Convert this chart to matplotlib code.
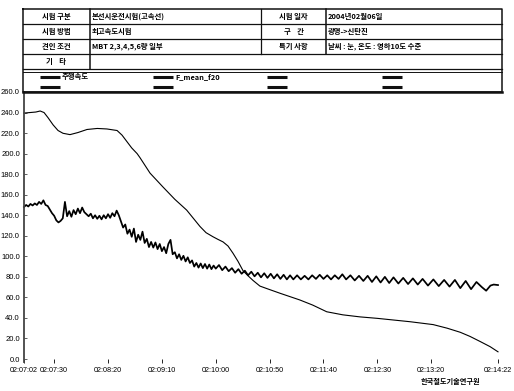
import matplotlib
matplotlib.use("Agg")
import matplotlib.pyplot as plt

plt.rcParams['font.family'] = ['Noto Sans CJK KR', 'DejaVu Sans']

# ==========================
# 시험 정보 (헤더 표)
# ==========================
LEFT_LABELS = ["시험 구분", "시험 방법", "견인 조건", "기    타"]
LEFT_VALUES = ["본선시운전시험(고속선)", "최고속도시험", "MBT 2,3,4,5,6량 일부", ""]
RIGHT_LABELS = ["시험 일자", "구    간", "특기 사항"]
RIGHT_VALUES = ["2004년02월06일", "광명->신탄진", "날씨 : 눈, 온도 : 영하10도 수준"]
SERIES_NAMES = ["주행속도", "F_mean_f20", "", ""]
SOURCE = "한국철도기술연구원"

# ==========================
# 시간축 (02:07:02 기준, 초)
# ==========================
TICK_SEC = [0, 28, 78, 128, 178, 228, 278, 328, 378, 440]
TICK_LABELS = ["02:07:02", "02:07:30", "02:08:20", "02:09:10", "02:10:00",
               "02:10:50", "02:11:40", "02:12:30", "02:13:20", "02:14:22"]
Y_TICKS = [0, 20, 40, 60, 80, 100, 120, 140, 160, 180, 200, 220, 240, 260]

# 주행속도 (km/h)
speed_t = [0, 5.6, 11, 15, 18.6, 22.3, 27, 31.6, 36.2, 42.7, 50, 58.5, 68, 77,
           86.4, 91, 95.6, 100, 105, 107.7, 117, 129, 140, 151, 163.4, 169,
           175.5, 180, 184.8, 189.4, 194, 198.7, 203.3, 208, 212.6, 219, 225.6,
           237.7, 256, 268, 281, 296, 312, 327.8, 358.4, 379.8, 392.8, 405,
           414, 423.5, 432.7, 440]
speed = [239.5, 240, 240.5, 241.5, 240, 235, 228, 222.5, 219.8, 218.5, 220.5,
         223.5, 224.5, 224, 222.5, 218, 211.6, 205.5, 200, 196, 181, 167.5,
         155.5, 145, 129, 123, 119, 116.5, 114, 110, 103, 95, 86, 81, 76.5,
         71, 68.5, 64, 57.5, 52.5, 46, 43, 41, 39.6, 36.3, 33.5, 30, 26, 22,
         17, 12, 7]

# F_mean_f20
f_t = [0, 2, 4, 6, 8, 10, 12, 14, 16, 18, 20, 22, 24, 26, 28, 30, 32, 34, 36,
       38, 40, 42, 44, 46, 48, 50, 52, 54, 56, 58, 60, 62, 64, 66, 68, 70, 72,
       74, 76, 78, 80, 82, 84, 86, 88, 90, 92, 94, 96, 98, 100, 102, 104, 106,
       108, 110, 112, 114, 116, 118, 120, 122, 124, 126, 128, 130, 132, 134,
       136, 138, 140, 142, 144, 146, 148, 150, 152, 154, 156, 158, 160, 162,
       164, 166, 168, 170, 172, 174, 176,
       178, 181, 184, 187, 190, 193, 196, 199, 202, 205, 208, 211, 214, 217,
       220, 223, 226, 229, 232, 235, 238, 241, 244, 247, 250, 253.5, 257,
       260.5, 264, 267.5, 271, 274.5, 278, 281.5, 285, 288.5, 292, 295.5, 299,
       303, 307, 311, 315, 319, 323, 327, 331, 335, 339, 343, 347.5, 352,
       356.5, 361, 365.5, 370, 375, 380, 385, 390, 395, 400, 405, 410, 415,
       420, 425, 429, 433, 436, 440]
f_mean = [148, 150, 148.5, 151, 149.5, 151.5, 150, 153, 151, 154.5, 150, 149,
          145.5, 142, 139.5, 135, 133, 134.5, 137, 153, 139, 144, 138.5, 145,
          141, 146.5, 142, 147.5, 143, 141, 139, 141.5, 137, 140, 136.5, 139.5,
          136, 140, 137, 141, 137.5, 142, 139, 144.5, 140, 134, 128, 131, 122,
          126, 119, 127, 114, 121, 116, 124, 113, 117, 109, 114, 108.5, 113.5,
          107, 112, 105, 109, 103, 112, 116, 102, 104, 98, 102, 96.5, 100.5,
          95, 99, 93.5, 96, 90, 93.5, 89, 93, 88.5, 92.5, 88, 92, 87.5, 91,
          88, 91.5, 86.5, 90, 85.5, 88.5, 84, 87.5, 83, 86, 81.5, 85, 80.5, 84,
          79.5, 83.5, 79, 83, 78.5, 82.5, 78, 82, 77.5, 81.5, 77.5, 81.5, 77.5,
          81, 77.5, 81.5, 78, 82, 78, 81.5, 77.5, 81.5, 78, 82.5, 77.5, 81.5,
          76.5, 81, 76, 81, 75, 80.5, 74.5, 80, 74, 79.5, 73.5, 79, 73, 78.5,
          72.5, 78, 71.5, 77.5, 71, 77, 70.5, 77, 69, 76, 68, 75, 70, 66.5,
          71.5, 72.5, 72]

W, H = 514, 391


def fx(x):
    return x / W


def fy(y):
    return 1 - y / H


fig = plt.figure(figsize=(W / 100, H / 100), dpi=100)

# -------- 그래프 영역 --------
ax = fig.add_axes([fx(24), fy(359), fx(498) - fx(24), fy(92) - fy(359)])
ax.plot(speed_t, speed, color="black", lw=0.8, clip_on=False)
ax.plot(f_t, f_mean, color="black", lw=1.25, clip_on=False)
ax.set_xlim(0, 440)
ax.set_ylim(0, 260)
for s in ("top", "right", "bottom"):
    ax.spines[s].set_visible(False)
ax.spines["left"].set_color("#444444")
ax.spines["left"].set_linewidth(1.3)
ax.spines["left"].set_bounds(-3, 260)

ax.set_yticks(Y_TICKS)
ax.set_yticklabels([f"{v:.1f}" for v in Y_TICKS])
ax.set_xticks(TICK_SEC)
ax.set_xticklabels(TICK_LABELS)
ax.tick_params(axis="y", direction="in", length=2, width=0.6, pad=3,
               labelsize=5.5, color="#444444")
ax.tick_params(axis="x", direction="out", length=3, width=0.6, pad=3,
               labelsize=5.2)
for lab in ax.get_xticklabels() + ax.get_yticklabels():
    lab.set_family(["Liberation Sans", "DejaVu Sans"])

# -------- 헤더 표 (픽셀 좌표) --------
ov = fig.add_axes([0, 0, 1, 1])
ov.set_xlim(0, W)
ov.set_ylim(H, 0)
ov.axis("off")
ov.patch.set_visible(False)

row_y = [9, 24, 39, 54, 69]
x0, x1, xm, xr, xe = 23, 90, 261, 326, 502
ink = "#111111"

# 바깥 테두리
ov.plot([x0, xe, xe, x0, x0], [row_y[0], row_y[0], 92, 92, row_y[0]],
        color=ink, lw=1.1)
for y in row_y[1:]:
    ov.plot([x0, xe], [y, y], color=ink, lw=0.9)
ov.plot([x0, xe], [71.5, 71.5], color=ink, lw=0.7)
ov.plot([x0, xe], [92, 92], color=ink, lw=1.8)
ov.plot([x1, x1], [row_y[0], row_y[4]], color=ink, lw=1.1)
ov.plot([xm, xm], [row_y[0], row_y[3]], color=ink, lw=0.9)
ov.plot([xr, xr], [row_y[0], row_y[3]], color=ink, lw=1.1)

for i, (lab, val) in enumerate(zip(LEFT_LABELS, LEFT_VALUES)):
    yc = (row_y[i] + row_y[i + 1]) / 2
    ov.text((x0 + x1) / 2, yc, lab, ha="center", va="center",
            fontsize=5.3, fontweight="bold")
    ov.text(x1 + 2, yc, val, ha="left", va="center",
            fontsize=5.3, fontweight="bold")
for i, (lab, val) in enumerate(zip(RIGHT_LABELS, RIGHT_VALUES)):
    yc = (row_y[i] + row_y[i + 1]) / 2
    ov.text((xm + xr) / 2, yc, lab, ha="center", va="center",
            fontsize=5.3, fontweight="bold")
    ov.text(xr + 2, yc, val, ha="left", va="center",
            fontsize=5.3, fontweight="bold")

# 범례 (2줄)
leg_x = [40, 153, 267, 382]
for lx, name in zip(leg_x, SERIES_NAMES):
    for ly in (77, 87):
        ov.plot([lx, lx + 20], [ly, ly], color=ink, lw=2.2,
                solid_capstyle="butt")
    if name:
        ov.text(lx + 22, 76.5, name, ha="left", va="center",
                fontsize=5.3, fontweight="bold")

ov.text(450, 381.5, SOURCE, ha="center", va="center",
        fontsize=5.2, fontweight="bold")

fig.savefig("out.png", dpi=100)
